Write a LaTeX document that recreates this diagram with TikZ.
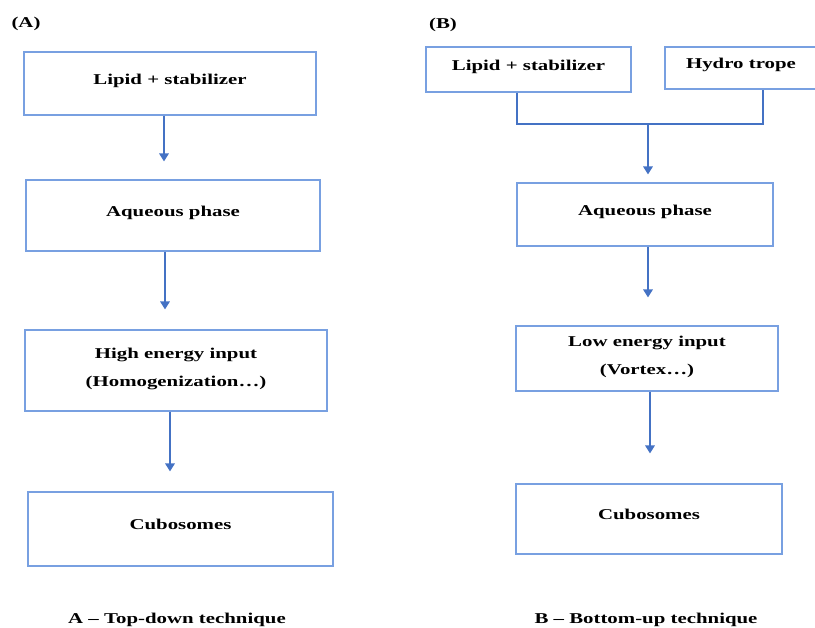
\documentclass[tikz,border=0pt]{standalone}
\usepackage{fontspec}
\setmainfont[FakeStretch=1.39]{Liberation Serif}
\usetikzlibrary{arrows.meta,calc}
\definecolor{boxblue}{RGB}{120,160,225}
\definecolor{arrowblue}{RGB}{68,114,196}
\tikzset{
  stage/.style={draw=boxblue, line width=0.8pt, inner sep=0pt, align=center,
    text height=8pt, text depth=7pt, font=\fontsize{11.25}{21}\selectfont\bfseries},
  twoline/.style={text height=, text depth=5.5pt},
  flow/.style={draw=arrowblue, line width=1.5pt},
  flowarrow/.style={flow, -{Triangle[length=6pt,width=7pt]}},
  caption/.style={font=\fontsize{11.25}{14}\selectfont\bfseries}
}
\begin{document}
\begin{tikzpicture}[x=0.75pt,y=-0.75pt]
\useasboundingbox (0,0) rectangle (815,628);
\node (labA) at (26,24) [caption] {(A)};
\node (labB) at (443,25) [caption] {(B)};
\node (a1) at (170,83.5) [stage, minimum width=219pt, minimum height=47.25pt] {Lipid + stabilizer};
\node (a2) at (173,215.5) [stage, minimum width=220.5pt, minimum height=53.25pt] {Aqueous phase};
\node (a3) at (176,370.5) [stage, twoline, minimum width=226.5pt, minimum height=60.75pt] {High energy input\\(Homogenization…)};
\node (a4) at (180.5,529) [stage, minimum width=228.75pt, minimum height=55.5pt] {Cubosomes};
\draw[flowarrow, shorten >=13.5pt] ($(a1.south)+(-6,0)$) coordinate (s1) -- (s1 |- a2.north);
\draw[flowarrow, shorten >=15pt] ($(a2.south)+(-8,0)$) coordinate (s2) -- (s2 |- a3.north);
\draw[flowarrow, shorten >=15pt] ($(a3.south)+(-6,0)$) coordinate (s3) -- (s3 |- a4.north);
\node (capA) at (177,620) [caption] {A – Top-down technique};
\node (b1) at (528.5,69.5) [stage, minimum width=153.75pt, minimum height=33.75pt] {Lipid + stabilizer};
\node (hyd) at (741,68) [stage, minimum width=114pt, minimum height=31.5pt] {Hydro trope};
\node (b2) at (645,214.5) [stage, minimum width=192pt, minimum height=47.25pt] {Aqueous phase};
\node (b3) at (647,358.5) [stage, twoline, minimum width=196.5pt, minimum height=48.75pt] {Low energy input\\(Vortex…)};
\node (b4) at (649,519) [stage, minimum width=199.5pt, minimum height=52.5pt] {Cubosomes};
\coordinate (jl) at (517,124);
\coordinate (jm) at (648,124);
\coordinate (jr) at (763,124);
\draw[flow] (b1.south -| jl) -- (jl) -- (jr) -- (hyd.south -| jr);
\draw[flowarrow, shorten >=6pt] (jm) -- (b2.north -| jm);
\draw[flowarrow, shorten >=21pt] ($(b2.south)+(3,0)$) coordinate (t2) -- (t2 |- b3.north);
\draw[flowarrow, shorten >=22.5pt] ($(b3.south)+(3,0)$) coordinate (t3) -- (t3 |- b4.north);
\node (capB) at (646,620) [caption] {B – Bottom-up technique};
\end{tikzpicture}
\end{document}
